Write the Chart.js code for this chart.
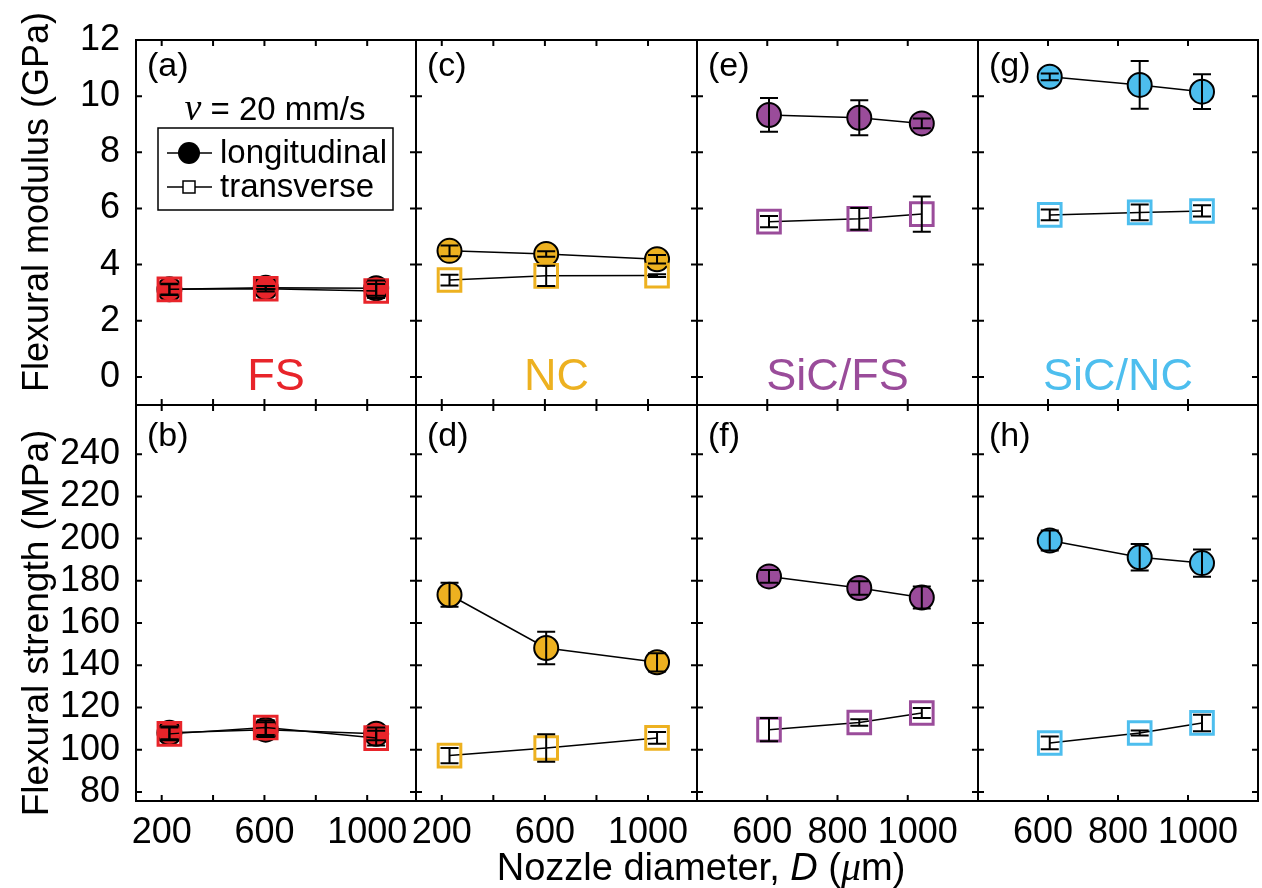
<!DOCTYPE html>
<html>
<head>
<meta charset="utf-8">
<title>Flexural modulus and strength vs nozzle diameter</title>
<script src="https://cdn.jsdelivr.net/npm/chart.js@4.4.1/dist/chart.umd.min.js"></script>
<style>
  body { margin: 0; background: #fff; }
  #fig { position: relative; width: 1262px; height: 888px; }
  #fig canvas { position: absolute; left: 0; top: 0; }
</style>
</head>
<body>
<div id="fig"></div>
<script>
// nozzle diameters (um)
var nozzleFsNc = [230, 605, 1035];
var nozzleSic = [605, 862, 1040];

// flexural modulus (GPa): mean values and error bars
var modFsLong = [3.12, 3.18, 3.16],   modFsLongErr = [0.18, 0.06, 0.27];
var modFsTrans = [3.12, 3.14, 3.06],  modFsTransErr = [0.2, 0.1, 0.25];
var modNcLong = [4.49, 4.38, 4.19],   modNcLongErr = [0.19, 0.1, 0.15];
var modNcTrans = [3.45, 3.6, 3.61],   modNcTransErr = [0.19, 0.36, 0.05];
var modSfLong = [9.33, 9.23, 9.03],   modSfLongErr = [0.6, 0.62, 0.17];
var modSfTrans = [5.53, 5.63, 5.8],   modSfTransErr = [0.2, 0.39, 0.63];
var modSnLong = [10.69, 10.4, 10.16], modSnLongErr = [0.12, 0.85, 0.62];
var modSnTrans = [5.77, 5.86, 5.91],  modSnTransErr = [0.19, 0.28, 0.2];

// flexural strength (MPa): mean values and error bars
var strFsLong = [108, 109.5, 107.5],   strFsLongErr = [3, 3.5, 3];
var strFsTrans = [107.5, 110.5, 105.5], strFsTransErr = [3, 3.5, 3.5];
var strNcLong = [173.4, 148.2, 141.4], strNcLongErr = [5.7, 7.7, 4.3];
var strNcTrans = [97.2, 100.8, 105.6], strNcTransErr = [3.6, 6.5, 2.8];
var strSfLong = [182.1, 176.6, 172.1], strSfLongErr = [3, 3.2, 5.2];
var strSfTrans = [109.5, 112.9, 117.4], strSfTransErr = [5.5, 1.5, 2.4];
var strSnLong = [199.1, 191.2, 188.4], strSnLongErr = [4.7, 6.3, 6.5];
var strSnTrans = [103.2, 107.9, 112.7], strSnTransErr = [3, 1.2, 3.9];

var materials = ['FS', 'NC', 'SiC/FS', 'SiC/NC'];
var matColors = ['#E8242A', '#EDB120', '#9A4C9A', '#4DBEEE'];
var panelTags = [['(a)', '(b)'], ['(c)', '(d)'], ['(e)', '(f)'], ['(g)', '(h)']];

// tick values
var modTicks = [0, 2, 4, 6, 8, 10, 12];
var strTicks = [80, 100, 120, 140, 160, 180, 200, 220, 240];
var xTicksFsNc = [200, 400, 600, 800, 1000];
var xLabelsFsNc = [200, 600, 1000];
var xTicksSic = [600, 800, 1000];

var modulus = [
  { lo: modFsLong, loErr: modFsLongErr, tr: modFsTrans, trErr: modFsTransErr },
  { lo: modNcLong, loErr: modNcLongErr, tr: modNcTrans, trErr: modNcTransErr },
  { lo: modSfLong, loErr: modSfLongErr, tr: modSfTrans, trErr: modSfTransErr },
  { lo: modSnLong, loErr: modSnLongErr, tr: modSnTrans, trErr: modSnTransErr }
];
var strength = [
  { lo: strFsLong, loErr: strFsLongErr, tr: strFsTrans, trErr: strFsTransErr },
  { lo: strNcLong, loErr: strNcLongErr, tr: strNcTrans, trErr: strNcTransErr },
  { lo: strSfLong, loErr: strSfLongErr, tr: strSfTrans, trErr: strSfTransErr },
  { lo: strSnLong, loErr: strSnLongErr, tr: strSnTrans, trErr: strSnTransErr }
];

var SANS = "'Liberation Sans', Arial, Helvetica, sans-serif";
var SERIF = "'Liberation Serif', 'Times New Roman', serif";
Chart.defaults.font.family = SANS;
Chart.defaults.color = '#000';

var W = 1262, H = 888;
var colEdges = [136, 416, 697, 978, 1258];
var rowEdges = [40, 405, 801];
var labelBand = 80;   // room under the bottom row for the x tick labels

// writes a run of text pieces with mixed fonts, centred on cx
function mixedText(ctx, parts, cx, y) {
  var total = 0;
  parts.forEach(function (p) { ctx.font = p.f; total += ctx.measureText(p.t).width; });
  var x = cx - total / 2;
  ctx.textAlign = 'left';
  parts.forEach(function (p) {
    ctx.font = p.f;
    ctx.fillText(p.t, x, y);
    x += ctx.measureText(p.t).width;
  });
}

// fixed scale sizes so every chart area lands on its own panel
function fixSize(size) {
  return function (s) {
    if (s.isHorizontal()) s.height = size; else s.width = size;
    s.paddingLeft = s.paddingRight = s.paddingTop = s.paddingBottom = 0;
  };
}

var panelDecor = {
  id: 'panelDecor',
  afterDatasetsDraw: function (chart) {
    var ctx = chart.ctx, xs = chart.scales.x, ys = chart.scales.y;
    ctx.save();
    ctx.strokeStyle = '#000';
    ctx.lineWidth = 2;
    chart.data.datasets.forEach(function (ds) {
      ds.data.forEach(function (p, i) {
        var e = ds.errors[i];
        var px = xs.getPixelForValue(p.x);
        var y1 = ys.getPixelForValue(p.y - e), y2 = ys.getPixelForValue(p.y + e);
        ctx.beginPath();
        ctx.moveTo(px, y1); ctx.lineTo(px, y2);
        ctx.moveTo(px - 9, y1); ctx.lineTo(px + 9, y1);
        ctx.moveTo(px - 9, y2); ctx.lineTo(px + 9, y2);
        ctx.stroke();
      });
    });
    ctx.restore();
  },
  afterDraw: function (chart, args, o) {
    var ctx = chart.ctx, a = chart.chartArea, xs = chart.scales.x, ys = chart.scales.y;
    ctx.save();

    // frame with inward ticks on all four sides
    ctx.strokeStyle = '#000';
    ctx.lineWidth = 2;
    ctx.strokeRect(a.left, a.top, a.right - a.left, a.bottom - a.top);
    ctx.beginPath();
    xs.ticks.forEach(function (t) {
      var px = xs.getPixelForValue(t.value);
      if (px <= a.left + 2 || px >= a.right - 2) return;
      ctx.moveTo(px, a.bottom); ctx.lineTo(px, a.bottom - 6);
      ctx.moveTo(px, a.top); ctx.lineTo(px, a.top + 6);
    });
    ys.ticks.forEach(function (t) {
      var py = ys.getPixelForValue(t.value);
      if (py <= a.top + 2 || py >= a.bottom - 2) return;
      ctx.moveTo(a.left, py); ctx.lineTo(a.left + 6, py);
      ctx.moveTo(a.right, py); ctx.lineTo(a.right - 6, py);
    });
    ctx.stroke();

    // panel letter
    ctx.fillStyle = '#000';
    ctx.textBaseline = 'alphabetic';
    ctx.textAlign = 'left';
    ctx.font = '34px ' + SANS;
    ctx.fillText(o.tag, a.left + 11, a.top + o.tagDy);

    // material name
    if (o.material) {
      ctx.fillStyle = o.color;
      ctx.textAlign = 'center';
      ctx.font = '45px ' + SANS;
      ctx.fillText(o.material, (a.left + a.right) / 2, a.top + 350);
    }

    // speed note and legend box
    if (o.legend) {
      ctx.fillStyle = '#000';
      mixedText(ctx, [
        { t: '\u03BD', f: 'italic 38px ' + SERIF },
        { t: ' = 20 mm/s', f: '33px ' + SANS }
      ], a.left + 139, a.top + 80);

      var bx = a.left + 22, by = a.top + 88;
      ctx.lineWidth = 1.5;
      ctx.strokeRect(bx, by, 235, 82);
      var r1 = by + 25, r2 = by + 59, sx = bx + 31;
      ctx.beginPath();
      ctx.moveTo(bx + 9, r1); ctx.lineTo(bx + 54, r1);
      ctx.moveTo(bx + 9, r2); ctx.lineTo(bx + 54, r2);
      ctx.stroke();
      ctx.beginPath();
      ctx.arc(sx, r1, 11, 0, Math.PI * 2);
      ctx.fill();
      ctx.fillStyle = '#fff';
      ctx.fillRect(sx - 6, r2 - 6, 12, 12);
      ctx.strokeRect(sx - 6, r2 - 6, 12, 12);
      ctx.fillStyle = '#000';
      ctx.font = '33px ' + SANS;
      ctx.textAlign = 'left';
      ctx.textBaseline = 'middle';
      ctx.fillText('longitudinal', bx + 62, r1 + 1);
      ctx.fillText('transverse', bx + 62, r2 + 1);
      ctx.textBaseline = 'alphabetic';
    }

    // axis titles
    ctx.fillStyle = '#000';
    if (o.yTitle) {
      ctx.save();
      ctx.translate(48, o.yTitle.cy);
      ctx.rotate(-Math.PI / 2);
      ctx.textAlign = 'center';
      ctx.font = o.yTitle.size + 'px ' + SANS;
      ctx.fillText(o.yTitle.text, 0, 0);
      ctx.restore();
    }
    if (o.xTitle) {
      mixedText(ctx, [
        { t: 'Nozzle diameter, ', f: '38px ' + SANS },
        { t: 'D', f: 'italic 38px ' + SANS },
        { t: ' (', f: '38px ' + SANS },
        { t: '\u03BC', f: 'italic 40px ' + SERIF },
        { t: 'm)', f: '38px ' + SANS }
      ], 701, 880);
    }
    ctx.restore();
  }
};

var fig = document.getElementById('fig');

function buildPanel(col, row) {
  var sic = col >= 2;
  var xs = sic ? nozzleSic : nozzleFsNc;
  var set = row === 0 ? modulus[col] : strength[col];
  var color = matColors[col];
  var xTickVals = sic ? xTicksSic : xTicksFsNc;
  var xLabelVals = sic ? xTicksSic : xLabelsFsNc;
  var yTickVals = row === 0 ? modTicks : strTicks;
  var left = colEdges[col], right = colEdges[col + 1];
  var top = rowEdges[row], bottom = rowEdges[row + 1];
  // tick labels are clipped to their scale box, so the labelled axes get real room
  var yBand = col === 0 ? left : 0;
  var xBand = row === 1 ? labelBand : 0;

  function pts(ys) {
    return xs.map(function (x, i) { return { x: x, y: ys[i] }; });
  }

  var yTitle = null;
  if (col === 0) {
    yTitle = row === 0
      ? { text: 'Flexural modulus (GPa)', cy: 202, size: 36 }
      : { text: 'Flexural strength (MPa)', cy: 623, size: 37 };
  }

  var canvas = document.createElement('canvas');
  canvas.width = W;
  canvas.height = H;
  fig.appendChild(canvas);

  return new Chart(canvas, {
    type: 'line',
    data: {
      datasets: [
        {
          label: 'transverse',
          data: pts(set.tr),
          errors: set.trErr,
          order: 1,
          borderColor: '#000',
          borderWidth: 1.5,
          pointStyle: 'rect',
          pointRadius: 16,
          pointBackgroundColor: 'rgba(255,255,255,0)',
          pointBorderColor: color,
          pointBorderWidth: 3
        },
        {
          label: 'longitudinal',
          data: pts(set.lo),
          errors: set.loErr,
          order: 2,
          borderColor: '#000',
          borderWidth: 1.5,
          pointStyle: 'circle',
          pointRadius: 12,
          pointBackgroundColor: color,
          pointBorderColor: '#000',
          pointBorderWidth: 2
        }
      ]
    },
    options: {
      responsive: false,
      animation: false,
      devicePixelRatio: 1,
      events: [],
      layout: {
        autoPadding: false,
        padding: { left: left - yBand, right: W - right, top: top, bottom: H - bottom - xBand }
      },
      plugins: {
        legend: { display: false },
        tooltip: { enabled: false },
        panelDecor: {
          tag: panelTags[col][row],
          tagDy: row === 0 ? 36 : 41,
          material: row === 0 ? materials[col] : null,
          color: color,
          legend: col === 0 && row === 0,
          yTitle: yTitle,
          xTitle: col === 0 && row === 1
        }
      },
      scales: {
        x: {
          type: 'linear',
          min: sic ? 400 : 100,
          max: sic ? 1200 : 1190,
          grid: { display: false, drawTicks: false },
          border: { display: false },
          afterBuildTicks: function (s) {
            s.ticks = xTickVals.map(function (v) { return { value: v }; });
          },
          afterFit: fixSize(xBand),
          ticks: {
            display: row === 1,
            autoSkip: false,
            maxRotation: 0,
            padding: 10,
            font: { size: 36 },
            color: '#000',
            callback: function (v) {
              if (xLabelVals.indexOf(v) < 0) return '';
              // the SiC labels sit close together: nudge the outer two apart
              if (sic && v === 600) return '600 ';
              if (sic && v === 1000) return '  1000';
              return String(v);
            }
          }
        },
        y: {
          type: 'linear',
          min: row === 0 ? -1 : 75.7,
          max: row === 0 ? 12 : 263.3,
          grid: { display: false, drawTicks: false },
          border: { display: false },
          afterBuildTicks: function (s) {
            s.ticks = yTickVals.map(function (v) { return { value: v }; });
          },
          afterFit: fixSize(yBand),
          ticks: {
            display: col === 0,
            padding: 16,
            font: { size: 36 },
            color: '#000'
          }
        }
      }
    },
    plugins: [panelDecor]
  });
}

for (var c = 0; c < 4; c++) {
  for (var r = 0; r < 2; r++) {
    buildPanel(c, r);
  }
}
</script>
</body>
</html>
